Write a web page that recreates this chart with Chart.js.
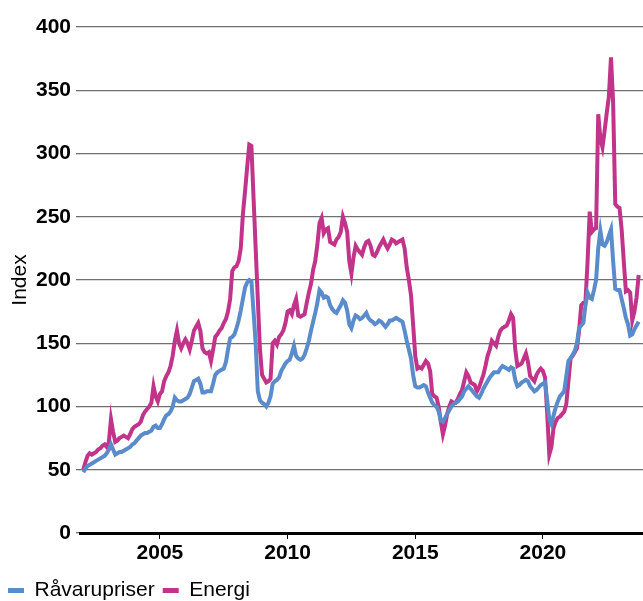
<!DOCTYPE html>
<html>
<head>
<meta charset="utf-8">
<script src="https://cdn.jsdelivr.net/npm/chart.js@4"></script>
<style>
  html, body { margin: 0; padding: 0; background: #fff; }
  #wrap { width: 643px; height: 601px; }
</style>
</head>
<body>
<div id="wrap"><canvas id="chart"></canvas></div>
<script>
// monthly index values, first value = January 2002
let startYear = 2002
let yearTicks = [2005, 2010, 2015, 2020]

let ravarupriser = [
  48, 51, 53, 54, 55, 56, 57, 58, 59, 60, 61, 63,
  66, 70, 66, 62, 63, 64, 64, 65, 66, 67, 68, 70,
  71, 73, 75, 77, 78, 79, 79, 80, 81, 84, 85, 83,
  83, 86, 90, 93, 94, 96, 100, 107, 105, 104, 104, 105,
  106, 107, 110, 115, 120, 121, 122, 118, 111, 111, 112, 112,
  112, 118, 125, 127, 128, 129, 130, 135, 145, 154, 155, 157,
  162, 168, 176, 185, 194, 198, 200, 199, 175, 150, 112, 105,
  103, 102, 100, 103, 108, 118, 120, 121, 123, 128, 131, 134,
  136, 137, 142, 148, 140, 138, 137, 138, 141, 146, 152, 160,
  167, 174, 182, 192, 190, 186, 187, 186, 180, 177, 175, 174,
  177, 180, 184, 182, 176, 165, 162, 168, 172, 171, 169, 170,
  172, 174, 170, 168, 167, 165, 166, 168, 167, 165, 163, 165,
  168, 168, 169, 170, 169, 168, 167, 160, 152, 145, 138, 125,
  116, 115, 115, 116, 117, 116, 111, 107, 103, 101, 100, 96,
  89, 88, 91, 94, 97, 100, 102, 103, 104, 106, 108, 112,
  114, 116, 114, 112, 110, 108, 107, 110, 114, 117, 120, 123,
  125, 127, 127, 127, 130, 132, 131, 130, 129, 131, 130, 121,
  116, 117, 119, 120, 121, 120, 116, 114, 112, 113, 115, 117,
  118, 119, 105, 90, 86, 93, 99, 104, 108, 110, 112, 124,
  136, 138, 141, 144, 150, 162, 164, 166, 180, 190, 186, 185,
  192, 200, 225, 239, 228, 227, 230, 235, 240, 215, 193, 192,
  192, 185, 178, 170, 165, 156, 157, 161, 164, 167
]

let energi = [
  50, 56, 61, 63, 62, 63, 64, 66, 67, 69, 70, 68,
  72, 90, 80, 72, 73, 75, 76, 77, 76, 75, 78, 82,
  84, 85, 86, 88, 93, 96, 98, 100, 103, 116, 108, 104,
  110, 112, 120, 124, 127, 132, 140, 152, 160, 150, 146, 150,
  153, 150, 145, 152, 160, 163, 166, 160, 146, 143, 142, 143,
  136, 145, 155, 157, 160, 162, 166, 169, 175, 185, 207, 210,
  211, 215, 225, 252, 270, 289, 307, 306, 265, 225, 185, 146,
  125, 122, 119, 120, 122, 150, 152, 149, 155, 157, 160, 166,
  175, 176, 173, 180, 185, 172, 171, 172, 173, 182, 190, 197,
  208, 215, 228, 245, 249, 237, 240, 241, 230, 229, 228, 232,
  234, 238, 250, 245, 238, 215, 205, 218, 227, 224, 222, 220,
  226, 230, 231, 227, 220, 219, 222, 226, 229, 232, 228, 225,
  228, 232, 231, 229, 230, 231, 232, 225, 210, 200, 188, 165,
  140, 130, 131, 130, 133, 136, 134, 128, 110, 108, 107, 100,
  88, 78, 85, 94, 100, 104, 103, 103, 106, 110, 113, 120,
  127, 124, 119, 118, 117, 112, 115, 120, 125, 132, 140, 145,
  152, 150, 148, 155, 160, 162, 163, 164, 168, 173, 170, 145,
  132, 133, 134, 138, 142, 135, 124, 122, 120, 125, 128, 130,
  128, 123, 95, 62, 68, 83, 88, 91, 92, 94, 96, 102,
  120, 138, 140, 143, 146, 160, 180, 182, 183, 215, 254, 238,
  240, 241, 331, 312, 305, 318, 332, 345, 376, 340, 260, 258,
  257, 240, 215, 191, 192, 190, 168, 175, 186, 204
]

let blue = '#5a8bcb'
let pink = '#c2338a'
let font = 'Liberation Sans, Arial, sans-serif'

function toPoints(arr) { // månadsindex -> decimalår
  return arr.map((v, i) => ({ x: startYear + i / 12, y: v }))
}

// flyttar ner legenden lite så den hamnar som i originalet
let legendShift = {
  id: 'legendShift',
  afterLayout(chart) {
    chart.legend.top += 10
    chart.legend.bottom += 10
  }
}

new Chart(document.getElementById('chart'), {
  type: 'line',
  data: {
    datasets: [
      { label: 'Råvarupriser', data: toPoints(ravarupriser), borderColor: blue, backgroundColor: blue },
      { label: 'Energi', data: toPoints(energi), borderColor: pink, backgroundColor: pink }
    ]
  },
  options: {
    responsive: true,
    maintainAspectRatio: false,
    animation: false,
    layout: { padding: { top: 27, right: 0, left: 0, bottom: 0 } },
    elements: {
      point: { radius: 0 },
      line: { borderWidth: 4, tension: 0 }
    },
    scales: {
      x: {
        type: 'linear',
        min: 2001.87,
        max: 2023.92,
        afterBuildTicks: s => { s.ticks = yearTicks.map(v => ({ value: v })) },
        afterFit: s => { s.height = 29 },
        ticks: {
          callback: v => String(v),
          color: '#000',
          padding: 2,
          maxRotation: 0,
          font: { family: font, size: 21, weight: 'bold' }
        },
        grid: { drawOnChartArea: false, drawTicks: true, tickLength: 6, color: '#000', lineWidth: 1 },
        border: { display: true, color: '#000', width: 3 }
      },
      y: {
        min: 0,
        max: 400,
        afterFit: s => { s.width = 80 },
        ticks: {
          stepSize: 50,
          color: '#000',
          padding: 5,
          font: { family: font, size: 21, weight: 'bold' }
        },
        grid: { color: '#707070', lineWidth: 1.3, tickLength: 4 },
        border: { display: false },
        title: {
          display: true,
          text: 'Index',
          color: '#000',
          padding: { top: 8, bottom: 0 },
          font: { family: font, size: 21 }
        }
      }
    },
    plugins: {
      legend: {
        position: 'bottom',
        align: 'start',
        labels: {
          boxWidth: 16,
          boxHeight: 5,
          padding: 8,
          color: '#000',
          font: { family: font, size: 21 },
          generateLabels: chart => chart.data.datasets.map((ds, i) => ({
            text: ds.label,
            fillStyle: ds.borderColor,
            strokeStyle: ds.borderColor,
            lineWidth: 0,
            hidden: false,
            datasetIndex: i,
            fontColor: '#000'
          }))
        }
      },
      tooltip: { enabled: false }
    }
  },
  plugins: [legendShift]
})
</script>
</body>
</html>
